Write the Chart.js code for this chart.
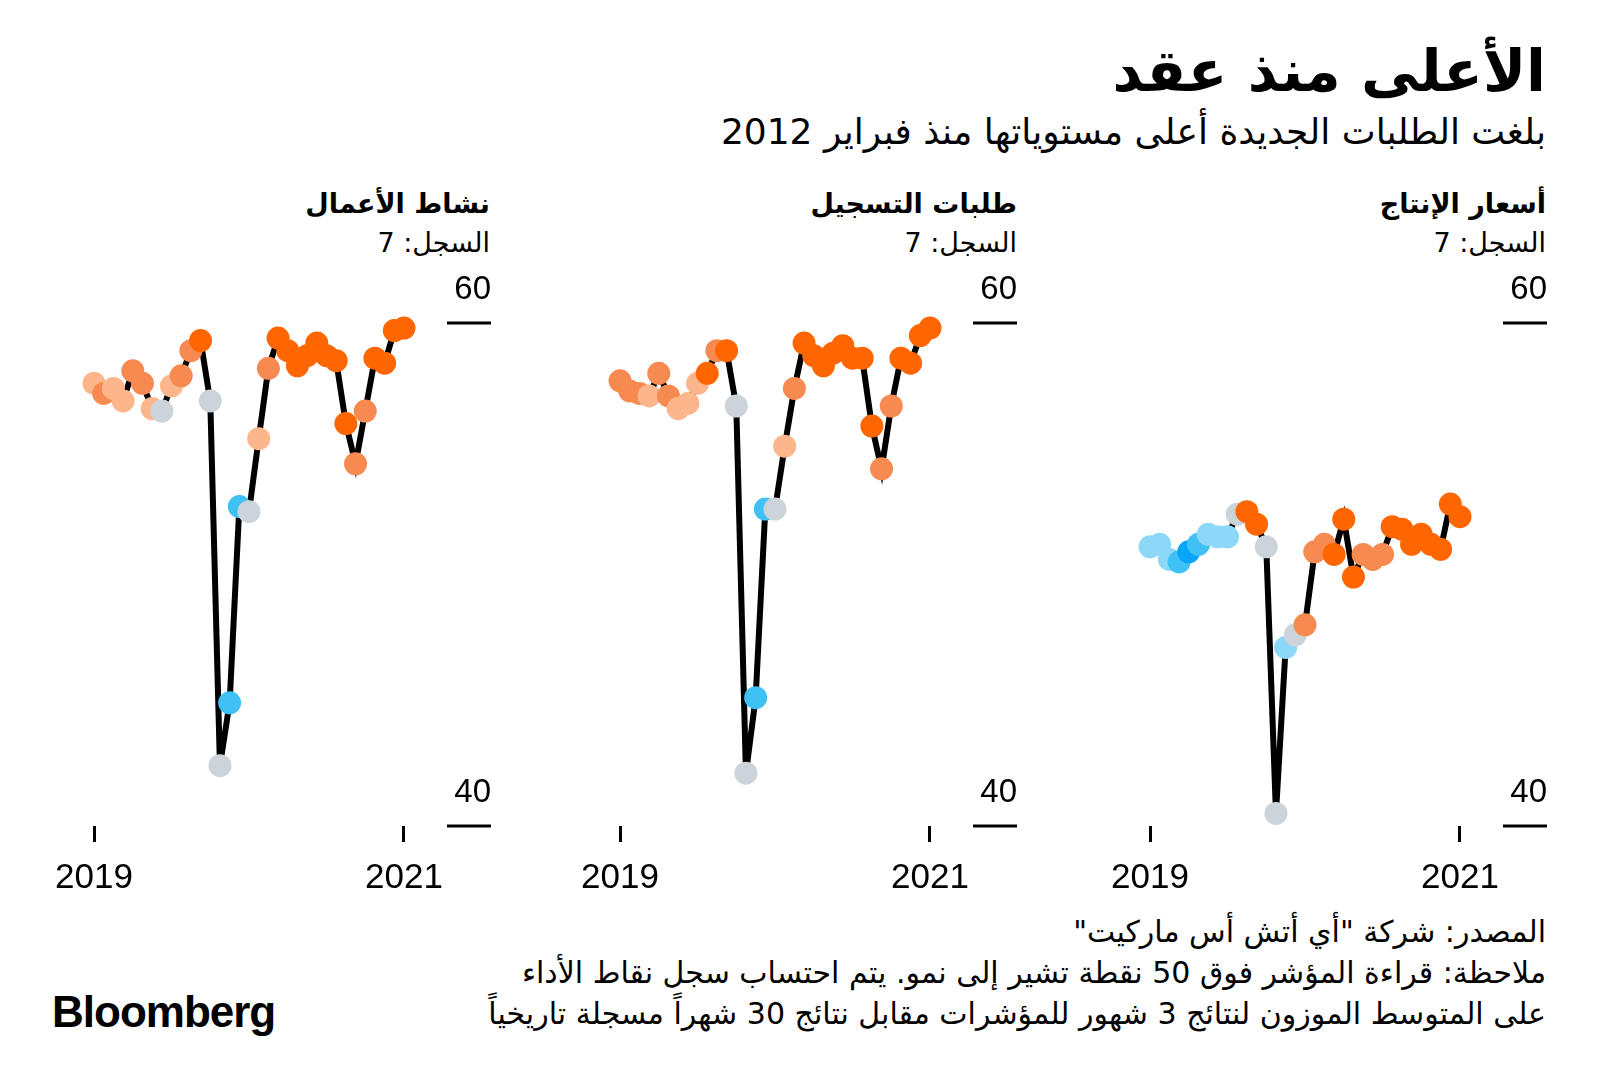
<!DOCTYPE html>
<html lang="ar">
<head>
<meta charset="UTF-8">
<title>الأعلى منذ عقد</title>
<script src="https://cdn.jsdelivr.net/npm/chart.js"></script>
<style>
  body { margin: 0; width: 1600px; height: 1091px; background: #fff; position: relative; overflow: hidden; color: #000; font-family: "DejaVu Sans", "Noto Sans", sans-serif; }
  .txt { position: absolute; direction: rtl; white-space: nowrap; line-height: 1; }
  .title { right: 54px; top: 42px; font-size: 58px; font-weight: bold; }
  .sub { right: 54px; top: 114px; font-size: 36px; }
  .ptitle { top: 190px; font-size: 27px; font-weight: bold; }
  .rec { top: 229px; font-size: 27px; }
  .note { right: 54px; font-size: 30px; }
  .logo { position: absolute; left: 52px; top: 990px; font-family: "Liberation Sans", Arial, sans-serif; font-weight: bold; font-size: 44px; letter-spacing: -1px; line-height: 1; }
  canvas { position: absolute; top: 260px; }
</style>
</head>
<body>
  <div class="txt title">الأعلى منذ عقد</div>
  <div class="txt sub">بلغت الطلبات الجديدة أعلى مستوياتها منذ فبراير 2012</div>

  <div class="txt ptitle" style="right:1110px">نشاط الأعمال</div>
  <div class="txt rec" style="right:1110px">السجل: 7</div>
  <div class="txt ptitle" style="right:583px">طلبات التسجيل</div>
  <div class="txt rec" style="right:583px">السجل: 7</div>
  <div class="txt ptitle" style="right:54px">أسعار الإنتاج</div>
  <div class="txt rec" style="right:54px">السجل: 7</div>

  <canvas id="activity" width="469" height="646" style="left:34px"></canvas>
  <canvas id="orders" width="469" height="646" style="left:560px"></canvas>
  <canvas id="prices" width="469" height="646" style="left:1090px"></canvas>

  <div class="txt note" style="top:917px">المصدر: شركة "أي أتش أس ماركيت"</div>
  <div class="txt note" style="top:958px">ملاحظة: قراءة المؤشر فوق 50 نقطة تشير إلى نمو. يتم احتساب سجل نقاط الأداء</div>
  <div class="txt note" style="top:999px">على المتوسط الموزون لنتائج 3 شهور للمؤشرات مقابل نتائج 30 شهراً مسجلة تاريخياً</div>
  <div class="logo">Bloomberg</div>

  <script>
    // tick labels
    const yearTicks = [0, 32];
    const yearLabels = ['2019', '2021'];
    const valueTicks = [40, 60];

    // نشاط الأعمال
    const activity = [57.6, 57.2, 57.4, 56.9, 58.1, 57.6, 56.6, 56.5, 57.5, 57.9, 58.9, 59.3, 56.9,
      42.4, 44.9, 52.7, 52.5, 55.4, 58.2, 59.4, 58.9, 58.3, 58.7, 59.2, 58.7, 58.5,
      56.0, 54.4, 56.5, 58.6, 58.4, 59.7, 59.8];
    const activityRecord = [1, 2, 1, 1, 2, 2, 1, 0, 1, 2, 2, 3, 0,
      0, -2, -2, 0, 1, 2, 3, 3, 3, 3, 3, 3, 3,
      3, 2, 2, 3, 3, 3, 3];

    // طلبات التسجيل
    const orders = [57.7, 57.3, 57.2, 57.1, 58.0, 57.1, 56.6, 56.8, 57.6, 58.0, 58.9, 58.9, 56.7,
      42.1, 45.1, 52.6, 52.6, 55.1, 57.4, 59.2, 58.7, 58.3, 58.8, 59.1, 58.6, 58.6,
      55.9, 54.2, 56.7, 58.6, 58.4, 59.5, 59.8];
    const ordersRecord = [2, 2, 2, 1, 2, 2, 1, 1, 1, 3, 2, 3, 0,
      0, -2, -2, 0, 1, 2, 3, 3, 3, 3, 3, 3, 3,
      3, 2, 2, 3, 3, 3, 3];

    // أسعار الإنتاج
    const prices = [51.1, 51.2, 50.6, 50.5, 50.9, 51.2, 51.6, 51.5, 51.5, 52.4, 52.5, 52.0, 51.1,
      40.5, 47.1, 47.6, 48.0, 50.9, 51.2, 50.8, 52.2, 49.9, 50.8, 50.6, 50.8, 51.9,
      51.8, 51.2, 51.6, 51.2, 51.0, 52.8, 52.3];
    const pricesRecord = [-1, -1, -1, -2, -3, -2, -1, -1, -1, 0, 3, 3, 0,
      0, -1, 0, 2, 2, 2, 3, 3, 3, 2, 2, 2, 3,
      3, 3, 3, 3, 3, 3, 3];

    const recordColors = {
      '3': '#ff6600', '2': '#f78a50', '1': '#fdb68c', '0': '#ccd4da',
      '-1': '#8dd8f8', '-2': '#3fc1f5', '-3': '#08a6fb'
    };

    const valueAxis = {
      id: 'valueAxis',
      afterDraw(chart) {
        const { ctx, chartArea, scales: { y } } = chart;
        ctx.save();
        ctx.strokeStyle = '#000';
        ctx.lineWidth = 3;
        ctx.fillStyle = '#000';
        ctx.font = '33px "Liberation Sans", Arial, sans-serif';
        ctx.textAlign = 'right';
        valueTicks.forEach(v => {
          const py = y.getPixelForValue(v);
          ctx.beginPath();
          ctx.moveTo(chartArea.right, py);
          ctx.lineTo(chartArea.right + 44, py);
          ctx.stroke();
          ctx.fillText(String(v), chartArea.right + 44, py - 24);
        });
        ctx.restore();
      }
    };

    function makePanel(id, values, records) {
      new Chart(document.getElementById(id), {
        type: 'line',
        data: {
          datasets: [{
            data: values.map((v, i) => ({ x: i, y: v })),
            borderColor: '#000',
            borderWidth: 6,
            tension: 0,
            pointRadius: 11.5,
            pointHoverRadius: 11.5,
            pointBorderWidth: 0,
            pointBackgroundColor: records.map(r => recordColors[r]),
            clip: false
          }]
        },
        options: {
          responsive: false,
          animation: false,
          events: [],
          layout: { padding: { left: 45.5, right: 56, top: 63, bottom: 0 } },
          plugins: { legend: { display: false }, tooltip: { enabled: false } },
          scales: {
            x: {
              type: 'linear',
              min: -1.5,
              max: 36.44,
              afterBuildTicks: s => { s.ticks = yearTicks.map(v => ({ value: v })); },
              afterFit: s => { s.height = 80; },
              grid: { drawOnChartArea: false, drawTicks: true, tickLength: 16, tickWidth: 3, tickColor: '#000' },
              border: { display: false },
              ticks: {
                padding: 15,
                color: '#000',
                maxRotation: 0,
                autoSkip: false,
                font: { family: '"Liberation Sans", Arial, sans-serif', size: 35 },
                callback: (v, i) => yearLabels[i]
              }
            },
            y: { display: false, min: 40, max: 60 }
          }
        },
        plugins: [valueAxis]
      });
    }

    makePanel('activity', activity, activityRecord);
    makePanel('orders', orders, ordersRecord);
    makePanel('prices', prices, pricesRecord);
  </script>
</body>
</html>
